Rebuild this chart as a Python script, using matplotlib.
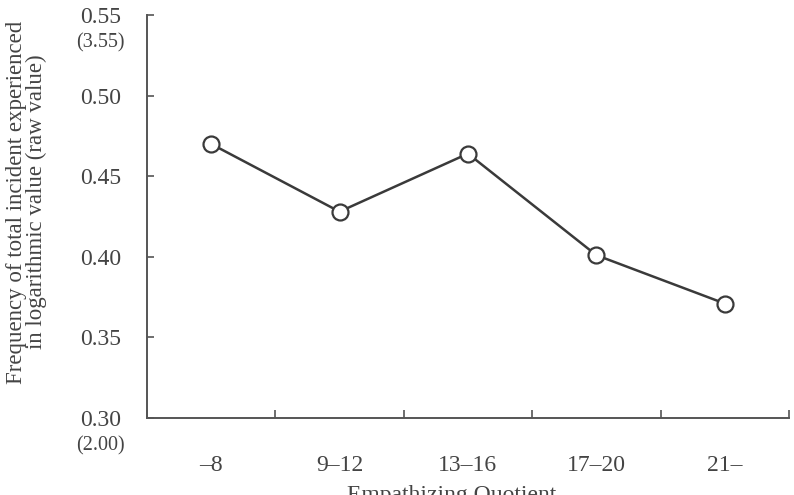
import numpy as np
import matplotlib
matplotlib.use("Agg")
import matplotlib.pyplot as plt
from matplotlib.transforms import blended_transform_factory

# data
categories = ["\u20138", "9\u201312", "13\u201316", "17\u201320", "21\u2013"]
freq_log = [0.470, 0.428, 0.464, 0.401, 0.371]
y_ticks = [0.30, 0.35, 0.40, 0.45, 0.50, 0.55]
y_tick_labels = ["0.30", "0.35", "0.40", "0.45", "0.50", "0.55"]
raw_notes = {0.55: "(3.55)", 0.30: "(2.00)"}

plt.rcParams["font.family"] = ["Liberation Serif", "DejaVu Serif"]
ink = "#3a3a3a"
text_c = "#444444"
fs = 17

fig = plt.figure(figsize=(7.94, 4.95), dpi=100)
ax = fig.add_axes([0.185, 0.1556, 0.8087, 0.8141])

x = np.arange(len(categories))
ax.plot(x, freq_log, color=ink, lw=1.8, marker="o", ms=11.5,
        mfc="white", mec=ink, mew=1.6, zorder=3)

ax.set_xlim(-0.5, len(categories) - 0.5)
ax.set_ylim(0.30, 0.55)

for side in ("top", "right"):
    ax.spines[side].set_visible(False)
for side in ("left", "bottom"):
    ax.spines[side].set_color("#555555")
    ax.spines[side].set_linewidth(1.4)

# boundary ticks on x, labels at category centres
ax.set_xticks(np.arange(len(categories) + 1) - 0.5)
ax.set_xticklabels([])
ax.set_xticks(x, minor=True)
ax.set_xticklabels(categories, minor=True)
ax.tick_params(axis="x", which="major", direction="in", length=6, width=1.2, color="#555555")
ax.tick_params(axis="x", which="minor", length=0, pad=27, labelsize=fs, labelcolor=text_c)

ax.set_yticks(y_ticks)
ax.set_yticklabels(y_tick_labels)
ax.tick_params(axis="y", direction="in", length=5, width=1.2, color="#555555",
               pad=33, labelsize=fs, labelcolor=text_c)
for lab in ax.get_yticklabels():
    lab.set_horizontalalignment("center")

trans = blended_transform_factory(fig.transFigure, ax.transData)
for yv, note in raw_notes.items():
    ax.text(100 / 794, yv - 0.0173, note, transform=trans, ha="center", va="center",
            fontsize=14.5, color=text_c)

ax.set_ylabel("Frequency of total incident experienced\nin logarithmic value (raw value)",
              fontsize=16.5, color=text_c, linespacing=0.95)
ax.yaxis.set_label_coords(-0.155, 0.536)

fig.text(452 / 794, 1 - 485 / 495, "Empathizing Quotient", ha="center", va="top",
         fontsize=fs, color=text_c)

fig.savefig("out.png", dpi=100)
